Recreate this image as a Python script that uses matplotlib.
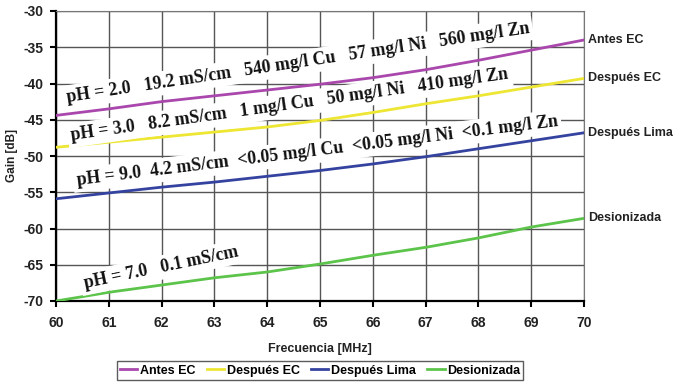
import matplotlib
matplotlib.use("Agg")
import matplotlib.pyplot as plt
import numpy as np

plt.rcParams["axes.unicode_minus"] = False

freq = [60, 61, 62, 63, 64, 65, 66, 67, 68, 69, 70]
antes_ec = [-44.4, -43.5, -42.5, -41.7, -40.9, -40.1, -39.2, -38.1, -36.8, -35.4, -34.0]
despues_ec = [-48.8, -48.1, -47.4, -46.7, -46.0, -45.1, -44.0, -42.8, -41.7, -40.5, -39.3]
despues_lima = [-55.9, -55.1, -54.3, -53.6, -52.8, -52.0, -51.1, -50.1, -49.0, -47.9, -46.8]
desionizada = [-70.0, -68.8, -67.8, -66.8, -66.0, -64.9, -63.7, -62.6, -61.3, -59.8, -58.6]

series_names = ["Antes EC", "Después EC", "Después Lima", "Desionizada"]
series_vals = [antes_ec, despues_ec, despues_lima, desionizada]
colors = ["#A947AD", "#EDE632", "#3543A0", "#5CC44A"]

banner_texts = [
    "pH = 2.0   19.2 mS/cm   540 mg/l Cu   57 mg/l Ni   560 mg/l Zn",
    "pH = 3.0   8.2 mS/cm   1 mg/l Cu   50 mg/l Ni   410 mg/l Zn",
    "pH = 9.0  4.2 mS/cm  <0.05 mg/l Cu  <0.05 mg/l Ni  <0.1 mg/l Zn",
    "pH = 7.0   0.1 mS/cm",
]

fig = plt.figure(figsize=(6.79, 3.84), dpi=100)
ax = fig.add_axes([56/679, 1-301/384, (584-56)/679, (301-11)/384])

for name, vals, c in zip(series_names, series_vals, colors):
    ax.plot(freq, vals, color=c, lw=2.0, label=name, zorder=3)

ax.set_xlim(60, 70)
ax.set_ylim(-70, -30)
ax.set_xticks(range(60, 71))
ax.set_yticks(range(-70, -29, 5))
ax.grid(True, color="#555555", lw=1.0, zorder=0)
for s in ["top", "right"]:
    ax.spines[s].set_color("#777777")
for s in ["left", "bottom"]:
    ax.spines[s].set_color("black")
    ax.spines[s].set_linewidth(1.6)
ax.tick_params(direction="out", length=4, width=1.5, labelsize=10)
ax.tick_params(axis="x", pad=7)
ax.tick_params(axis="y", pad=5)
for lab in ax.get_xticklabels() + ax.get_yticklabels():
    lab.set_fontfamily("Liberation Sans")
    lab.set_fontweight("bold")
    lab.set_color("#222222")

ax.set_xlabel("Frecuencia [MHz]", fontsize=9, fontweight="bold", family="Liberation Sans", labelpad=9, color="#222222")
ax.set_ylabel("Gain [dB]", fontsize=8.5, fontweight="bold", family="Liberation Sans", labelpad=4, color="#222222")

# end-of-line labels
for name, vals in zip(series_names, series_vals):
    ax.annotate(name, xy=(70, vals[-1]), xytext=(3, 0), textcoords="offset points",
                ha="left", va="center", fontsize=9, fontweight="bold",
                family="Liberation Sans", color="#222222", annotation_clip=False)

# rotated banners (positions in data coords)
banner_pos = [(60.21, -42.55, 8.5), (60.30, -47.8, 8.0), (60.40, -54.0, 7.0), (60.55, -68.2, 11.7)]
for txt, (bx, by, rot) in zip(banner_texts, banner_pos):
    ax.text(bx, by, txt, rotation=rot, rotation_mode="anchor", ha="left", va="baseline",
            fontsize=12.8, fontweight="bold", family="Liberation Serif", color="#111111",
            bbox=dict(facecolor="white", edgecolor="none", pad=2.5), zorder=4)

leg = fig.legend(loc="lower center", bbox_to_anchor=(320/679, -0.005), ncol=4,
                 prop={"family": "Liberation Sans", "size": 9, "weight": "bold"},
                 frameon=True, fancybox=False, edgecolor="#333333",
                 handlelength=1.4, handletextpad=0.2, columnspacing=0.9, borderpad=0.25)
leg.get_frame().set_linewidth(1.0)

fig.savefig("out.png", dpi=100)
